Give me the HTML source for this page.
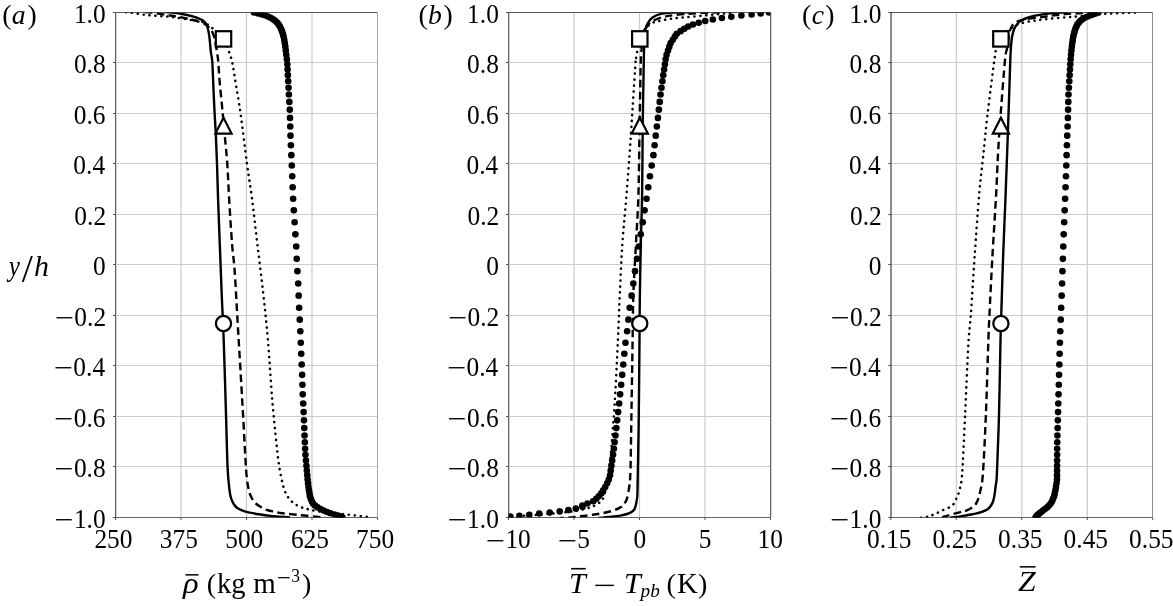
<!DOCTYPE html>
<html><head><meta charset="utf-8"><style>
html,body{margin:0;padding:0;background:#fff;}
body{width:1173px;height:606px;overflow:hidden;}
svg{display:block;}
text{font-family:"Liberation Serif",serif;fill:#000;}
</style></head><body>
<svg width="1173" height="606" viewBox="0 0 1173 606">
<defs>
<clipPath id="clipa"><rect x="115.5" y="12.5" width="262.0" height="505.0"/></clipPath>
<clipPath id="clipb"><rect x="508.5" y="12.5" width="262.0" height="505.0"/></clipPath>
<clipPath id="clipc"><rect x="890.8" y="12.5" width="262.0" height="505.0"/></clipPath>
</defs>
<path d="M181.00,12.5V517.5M246.50,12.5V517.5M312.00,12.5V517.5M115.5,62.50H377.5M115.5,113.50H377.5M115.5,163.50H377.5M115.5,214.50H377.5M115.5,264.50H377.5M115.5,315.50H377.5M115.5,365.50H377.5M115.5,416.50H377.5M115.5,466.50H377.5" stroke="#cbcbcb" stroke-width="1.2" fill="none"/>
<path d="M115.5,12.5H377.5" stroke="#5a5a5a" stroke-width="1" fill="none"/>
<path d="M115.5,517.5H377.5" stroke="#656565" stroke-width="1" fill="none"/>
<path d="M115.5,12.0V518.0" stroke="#5e5e5e" stroke-width="1" fill="none"/>
<path d="M377.5,12.5V517.5" stroke="#aaaaaa" stroke-width="1" fill="none"/>
<path d="M116.5,13.0V517.0" stroke="#d4d4d4" stroke-width="1" fill="none"/>
<path d="M113.00,12.50H115.5M113.00,62.50H115.5M113.00,113.50H115.5M113.00,163.50H115.5M113.00,214.50H115.5M113.00,264.50H115.5M113.00,315.50H115.5M113.00,365.50H115.5M113.00,416.50H115.5M113.00,466.50H115.5M113.00,517.50H115.5M115.50,517.5V520.0M181.00,517.5V520.0M246.50,517.5V520.0M312.00,517.5V520.0M377.50,517.5V520.0" stroke="#505050" stroke-width="1" fill="none"/>
<g clip-path="url(#clipa)" fill="none" stroke="#000">
<path d="M165.00,12.00C165.90,12.07 167.57,12.07 170.40,12.40C173.23,12.73 178.30,13.35 182.00,14.00C185.70,14.65 189.17,15.27 192.60,16.30C196.03,17.33 200.20,18.63 202.60,20.20C205.00,21.77 205.90,23.12 207.00,25.70C208.10,28.28 208.55,31.27 209.20,35.70C209.85,40.13 210.38,47.92 210.90,52.30C211.42,56.68 211.87,55.72 212.30,62.00C212.73,68.28 213.12,81.48 213.50,90.00C213.88,98.52 214.22,105.78 214.60,113.10C214.98,120.42 215.40,125.43 215.80,133.90C216.20,142.37 216.62,152.88 217.00,163.90C217.38,174.92 217.63,186.57 218.10,200.00C218.57,213.43 219.20,228.83 219.80,244.50C220.40,260.17 221.05,278.08 221.70,294.00C222.35,309.92 222.98,319.97 223.70,340.00C224.42,360.03 225.35,392.93 226.00,414.20C226.65,435.47 227.02,454.97 227.60,467.60C228.18,480.23 228.93,484.93 229.50,490.00C230.07,495.07 230.25,495.58 231.00,498.00C231.75,500.42 232.83,502.75 234.00,504.50C235.17,506.25 236.08,507.32 238.00,508.50C239.92,509.68 241.98,510.63 245.50,511.60C249.02,512.57 254.57,513.55 259.10,514.30C263.63,515.05 268.83,515.67 272.70,516.10C276.57,516.53 279.42,516.67 282.30,516.90C285.18,517.13 288.72,517.40 290.00,517.50" stroke-width="2.4"/>
<path d="M145.00,12.00C146.10,12.08 148.10,12.03 151.60,12.50C155.10,12.97 161.02,13.98 166.00,14.80C170.98,15.62 175.60,16.13 181.50,17.40C187.40,18.67 196.98,20.88 201.40,22.40C205.82,23.92 206.33,25.20 208.00,26.50C209.67,27.80 210.28,28.12 211.40,30.20C212.52,32.28 213.77,35.32 214.70,39.00C215.63,42.68 216.40,48.47 217.00,52.30C217.60,56.13 217.88,57.38 218.30,62.00C218.72,66.62 218.77,71.48 219.50,80.00C220.23,88.52 221.82,103.73 222.70,113.10C223.58,122.47 224.03,127.73 224.80,136.20C225.57,144.67 226.57,153.27 227.30,163.90C228.03,174.53 228.40,186.57 229.20,200.00C230.00,213.43 231.20,232.83 232.10,244.50C233.00,256.17 233.70,257.42 234.60,270.00C235.50,282.58 236.57,304.05 237.50,320.00C238.43,335.95 239.28,350.03 240.20,365.70C241.12,381.37 242.05,397.17 243.00,414.00C243.95,430.83 245.27,456.20 245.90,466.70C246.53,477.20 246.48,473.95 246.80,477.00C247.12,480.05 247.33,482.30 247.80,485.00C248.27,487.70 248.90,490.95 249.60,493.20C250.30,495.45 251.10,496.92 252.00,498.50C252.90,500.08 253.67,501.37 255.00,502.70C256.33,504.03 258.18,505.35 260.00,506.50C261.82,507.65 263.73,508.77 265.90,509.60C268.07,510.43 270.27,510.90 273.00,511.50C275.73,512.10 277.80,512.60 282.30,513.20C286.80,513.80 294.32,514.52 300.00,515.10C305.68,515.68 312.23,516.30 316.40,516.70C320.57,517.10 323.57,517.37 325.00,517.50" stroke-width="2.4" stroke-dasharray="7.6 4.3"/>
<path d="M126.00,12.20C126.57,12.25 125.70,12.00 129.40,12.50C133.10,13.00 141.37,14.47 148.20,15.20C155.03,15.93 163.00,16.07 170.40,16.90C177.80,17.73 187.05,19.28 192.60,20.20C198.15,21.12 200.57,21.20 203.70,22.40C206.83,23.60 209.02,25.47 211.40,27.40C213.78,29.33 215.90,31.73 218.00,34.00C220.10,36.27 222.23,38.22 224.00,41.00C225.77,43.78 227.22,47.03 228.60,50.70C229.98,54.37 231.07,57.28 232.30,63.00C233.53,68.72 234.63,76.65 236.00,85.00C237.37,93.35 238.67,99.95 240.50,113.10C242.33,126.25 245.08,149.65 247.00,163.90C248.92,178.15 250.27,185.17 252.00,198.60C253.73,212.03 255.52,228.60 257.40,244.50C259.28,260.40 261.55,278.08 263.30,294.00C265.05,309.92 266.42,322.45 267.90,340.00C269.38,357.55 270.77,381.98 272.20,399.30C273.63,416.62 275.28,432.45 276.50,443.90C277.72,455.35 278.30,460.70 279.50,468.00C280.70,475.30 282.10,482.60 283.70,487.70C285.30,492.80 286.83,495.63 289.10,498.60C291.37,501.57 293.88,503.67 297.30,505.50C300.72,507.33 304.37,508.35 309.60,509.60C314.83,510.85 322.80,512.22 328.70,513.00C334.60,513.78 339.32,513.73 345.00,514.30C350.68,514.87 358.30,515.87 362.80,516.40C367.30,516.93 370.47,517.32 372.00,517.50" stroke-width="2.5" stroke-dasharray="0.2 5.72" stroke-linecap="round"/>
<g fill="#000" stroke="none"><circle cx="342.50" cy="517.50" r="3.3"/><circle cx="340.50" cy="516.59" r="3.3"/><circle cx="338.00" cy="515.59" r="3.3"/><circle cx="334.50" cy="514.50" r="3.3"/><circle cx="330.52" cy="513.30" r="3.3"/><circle cx="327.00" cy="512.00" r="3.3"/><circle cx="323.71" cy="510.57" r="3.3"/><circle cx="320.51" cy="509.01" r="3.3"/><circle cx="317.51" cy="507.31" r="3.3"/><circle cx="315.00" cy="505.46" r="3.3"/><circle cx="313.00" cy="503.43" r="3.3"/><circle cx="311.80" cy="501.23" r="3.3"/><circle cx="310.80" cy="498.83" r="3.3"/><circle cx="310.00" cy="496.22" r="3.3"/><circle cx="309.52" cy="493.38" r="3.3"/><circle cx="308.99" cy="490.31" r="3.3"/><circle cx="308.48" cy="486.97" r="3.3"/><circle cx="308.05" cy="483.35" r="3.3"/><circle cx="307.59" cy="479.44" r="3.3"/><circle cx="307.23" cy="475.22" r="3.3"/><circle cx="306.86" cy="470.66" r="3.3"/><circle cx="306.44" cy="465.76" r="3.3"/><circle cx="305.97" cy="460.49" r="3.3"/><circle cx="305.46" cy="454.84" r="3.3"/><circle cx="305.12" cy="448.78" r="3.3"/><circle cx="304.85" cy="442.32" r="3.3"/><circle cx="304.56" cy="435.43" r="3.3"/><circle cx="304.27" cy="428.10" r="3.3"/><circle cx="303.96" cy="420.33" r="3.3"/><circle cx="303.64" cy="412.12" r="3.3"/><circle cx="303.21" cy="403.46" r="3.3"/><circle cx="302.75" cy="394.36" r="3.3"/><circle cx="302.44" cy="384.82" r="3.3"/><circle cx="302.13" cy="374.87" r="3.3"/><circle cx="301.69" cy="364.52" r="3.3"/><circle cx="301.23" cy="353.79" r="3.3"/><circle cx="300.78" cy="342.71" r="3.3"/><circle cx="300.32" cy="331.32" r="3.3"/><circle cx="299.73" cy="319.65" r="3.3"/><circle cx="299.13" cy="307.75" r="3.3"/><circle cx="298.67" cy="295.67" r="3.3"/><circle cx="298.20" cy="283.46" r="3.3"/><circle cx="297.42" cy="271.16" r="3.3"/><circle cx="296.75" cy="258.84" r="3.3"/><circle cx="296.21" cy="246.54" r="3.3"/><circle cx="295.41" cy="234.33" r="3.3"/><circle cx="294.62" cy="222.25" r="3.3"/><circle cx="293.85" cy="210.35" r="3.3"/><circle cx="293.11" cy="198.68" r="3.3"/><circle cx="292.65" cy="187.29" r="3.3"/><circle cx="292.22" cy="176.21" r="3.3"/><circle cx="291.79" cy="165.48" r="3.3"/><circle cx="291.34" cy="155.13" r="3.3"/><circle cx="290.91" cy="145.18" r="3.3"/><circle cx="290.49" cy="135.64" r="3.3"/><circle cx="290.25" cy="126.54" r="3.3"/><circle cx="290.02" cy="117.88" r="3.3"/><circle cx="289.80" cy="109.67" r="3.3"/><circle cx="289.34" cy="101.90" r="3.3"/><circle cx="288.90" cy="94.57" r="3.3"/><circle cx="288.53" cy="87.68" r="3.3"/><circle cx="288.20" cy="81.22" r="3.3"/><circle cx="287.89" cy="75.16" r="3.3"/><circle cx="287.60" cy="69.51" r="3.3"/><circle cx="287.33" cy="64.24" r="3.3"/><circle cx="286.89" cy="59.34" r="3.3"/><circle cx="286.27" cy="54.78" r="3.3"/><circle cx="285.79" cy="50.56" r="3.3"/><circle cx="285.33" cy="46.65" r="3.3"/><circle cx="284.80" cy="43.03" r="3.3"/><circle cx="284.24" cy="39.69" r="3.3"/><circle cx="283.58" cy="36.62" r="3.3"/><circle cx="282.86" cy="33.78" r="3.3"/><circle cx="281.99" cy="31.17" r="3.3"/><circle cx="280.99" cy="28.77" r="3.3"/><circle cx="279.88" cy="26.57" r="3.3"/><circle cx="278.72" cy="24.54" r="3.3"/><circle cx="277.29" cy="22.69" r="3.3"/><circle cx="275.48" cy="20.99" r="3.3"/><circle cx="273.50" cy="19.43" r="3.3"/><circle cx="271.00" cy="18.00" r="3.3"/><circle cx="268.49" cy="16.70" r="3.3"/><circle cx="265.50" cy="15.50" r="3.3"/><circle cx="262.00" cy="14.41" r="3.3"/><circle cx="258.01" cy="13.41" r="3.3"/><circle cx="254.00" cy="12.50" r="3.3"/></g>
</g>
<rect x="215.80" y="31.20" width="15.4" height="15.4" fill="#fff" stroke="#000" stroke-width="2.2"/>
<path d="M223.50,117.70L231.60,133.60L215.40,133.60Z" fill="#fff" stroke="#000" stroke-width="2.2" stroke-miterlimit="3"/>
<circle cx="223.50" cy="323.50" r="7.6" fill="#fff" stroke="#000" stroke-width="2.2"/>
<path d="M574.00,12.5V517.5M639.50,12.5V517.5M705.00,12.5V517.5M508.5,62.50H770.5M508.5,113.50H770.5M508.5,163.50H770.5M508.5,214.50H770.5M508.5,264.50H770.5M508.5,315.50H770.5M508.5,365.50H770.5M508.5,416.50H770.5M508.5,466.50H770.5" stroke="#cbcbcb" stroke-width="1.2" fill="none"/>
<path d="M508.5,12.5H770.5" stroke="#5a5a5a" stroke-width="1" fill="none"/>
<path d="M508.5,517.5H770.5" stroke="#656565" stroke-width="1" fill="none"/>
<path d="M508.5,12.0V518.0" stroke="#5e5e5e" stroke-width="1" fill="none"/>
<path d="M770.5,12.5V517.5" stroke="#666666" stroke-width="1" fill="none"/>
<path d="M509.5,13.0V517.0" stroke="#d4d4d4" stroke-width="1" fill="none"/>
<path d="M771.5,13.0V517.0" stroke="#d4d4d4" stroke-width="1" fill="none"/>
<path d="M506.00,12.50H508.5M506.00,62.50H508.5M506.00,113.50H508.5M506.00,163.50H508.5M506.00,214.50H508.5M506.00,264.50H508.5M506.00,315.50H508.5M506.00,365.50H508.5M506.00,416.50H508.5M506.00,466.50H508.5M506.00,517.50H508.5M508.50,517.5V520.0M574.00,517.5V520.0M639.50,517.5V520.0M705.00,517.5V520.0M770.50,517.5V520.0" stroke="#505050" stroke-width="1" fill="none"/>
<g clip-path="url(#clipb)" fill="none" stroke="#000">
<path d="M690.00,12.20C686.92,12.25 676.37,12.22 671.50,12.50C666.63,12.78 664.02,13.03 660.80,13.90C657.58,14.77 654.35,16.18 652.20,17.70C650.05,19.22 649.07,20.87 647.90,23.00C646.73,25.13 645.83,26.38 645.20,30.50C644.57,34.62 644.37,40.73 644.10,47.70C643.83,54.67 643.82,60.62 643.60,72.30C643.38,83.98 643.05,97.35 642.80,117.80C642.55,138.25 642.43,173.88 642.10,195.00C641.77,216.12 641.18,227.00 640.80,244.50C640.42,262.00 640.02,284.08 639.80,300.00C639.58,315.92 639.70,318.50 639.50,340.00C639.30,361.50 638.93,403.88 638.60,429.00C638.27,454.12 637.80,478.87 637.50,490.70C637.20,502.53 637.10,497.53 636.80,500.00C636.50,502.47 636.12,503.92 635.70,505.50C635.28,507.08 635.00,508.42 634.30,509.50C633.60,510.58 632.72,511.25 631.50,512.00C630.28,512.75 628.85,513.40 627.00,514.00C625.15,514.60 622.90,515.13 620.40,515.60C617.90,516.07 614.73,516.48 612.00,516.80C609.27,517.12 606.33,517.30 604.00,517.50C601.67,517.70 599.00,517.92 598.00,518.00" stroke-width="2.4"/>
<path d="M720.00,12.30C715.83,12.48 702.37,12.95 695.00,13.40C687.63,13.85 681.15,14.38 675.80,15.00C670.45,15.62 667.02,15.93 662.90,17.10C658.78,18.27 653.92,20.18 651.10,22.00C648.28,23.82 647.35,25.50 646.00,28.00C644.65,30.50 643.75,33.33 643.00,37.00C642.25,40.67 641.87,46.17 641.50,50.00C641.13,53.83 641.10,48.70 640.80,60.00C640.50,71.30 640.10,95.30 639.70,117.80C639.30,140.30 639.03,173.88 638.40,195.00C637.77,216.12 636.73,228.00 635.90,244.50C635.07,261.00 633.95,278.08 633.40,294.00C632.85,309.92 632.97,317.50 632.60,340.00C632.23,362.50 631.55,407.33 631.20,429.00C630.85,450.67 630.78,460.67 630.50,470.00C630.22,479.33 629.92,481.03 629.50,485.00C629.08,488.97 628.50,491.30 628.00,493.80C627.50,496.30 627.25,498.22 626.50,500.00C625.75,501.78 624.52,503.27 623.50,504.50C622.48,505.73 622.43,506.28 620.40,507.40C618.37,508.52 615.35,510.05 611.30,511.20C607.25,512.35 601.17,513.47 596.10,514.30C591.03,515.13 585.25,515.67 580.90,516.20C576.55,516.73 573.48,517.20 570.00,517.50C566.52,517.80 561.67,517.92 560.00,518.00" stroke-width="2.4" stroke-dasharray="7.6 4.3"/>
<path d="M730.00,13.00C727.50,13.25 720.10,14.00 715.00,14.50C709.90,15.00 704.52,15.52 699.40,16.00C694.28,16.48 688.95,16.95 684.30,17.40C679.65,17.85 675.60,18.12 671.50,18.70C667.40,19.28 662.92,20.18 659.70,20.90C656.48,21.62 654.65,21.65 652.20,23.00C649.75,24.35 647.03,26.50 645.00,29.00C642.97,31.50 641.23,34.67 640.00,38.00C638.77,41.33 638.25,45.68 637.60,49.00C636.95,52.32 636.43,55.87 636.10,57.90C635.77,59.93 636.17,53.15 635.60,61.20C635.03,69.25 633.68,90.98 632.70,106.20C631.72,121.42 630.78,137.08 629.70,152.50C628.62,167.92 627.43,183.37 626.20,198.70C624.97,214.03 623.37,228.62 622.30,244.50C621.23,260.38 620.53,278.08 619.80,294.00C619.07,309.92 618.72,322.45 617.90,340.00C617.08,357.55 616.15,379.52 614.90,399.30C613.65,419.08 611.80,444.42 610.40,458.70C609.00,472.98 607.60,478.65 606.50,485.00C605.40,491.35 604.80,494.02 603.80,496.80C602.80,499.58 601.97,500.27 600.50,501.70C599.03,503.13 596.80,504.40 595.00,505.40C593.20,506.40 592.20,506.93 589.70,507.70C587.20,508.47 583.28,509.32 580.00,510.00C576.72,510.68 574.20,511.23 570.00,511.80C565.80,512.37 559.80,512.93 554.80,513.40C549.80,513.87 544.97,514.23 540.00,514.60C535.03,514.97 530.33,515.23 525.00,515.60C519.67,515.97 512.17,516.52 508.00,516.80C503.83,517.08 501.33,517.22 500.00,517.30" stroke-width="2.5" stroke-dasharray="0.2 5.72" stroke-linecap="round"/>
<g fill="#000" stroke="none"><circle cx="582.41" cy="505.46" r="3.3"/><circle cx="587.49" cy="503.43" r="3.3"/><circle cx="593.22" cy="501.23" r="3.3"/><circle cx="596.31" cy="498.83" r="3.3"/><circle cx="598.71" cy="496.22" r="3.3"/><circle cx="601.27" cy="493.38" r="3.3"/><circle cx="603.17" cy="490.31" r="3.3"/><circle cx="605.23" cy="486.97" r="3.3"/><circle cx="607.15" cy="483.35" r="3.3"/><circle cx="608.78" cy="479.44" r="3.3"/><circle cx="610.05" cy="475.22" r="3.3"/><circle cx="610.70" cy="470.66" r="3.3"/><circle cx="611.39" cy="465.76" r="3.3"/><circle cx="612.20" cy="460.49" r="3.3"/><circle cx="613.08" cy="454.84" r="3.3"/><circle cx="613.88" cy="448.78" r="3.3"/><circle cx="614.64" cy="442.32" r="3.3"/><circle cx="615.46" cy="435.43" r="3.3"/><circle cx="616.33" cy="428.10" r="3.3"/><circle cx="617.22" cy="420.33" r="3.3"/><circle cx="618.17" cy="412.12" r="3.3"/><circle cx="619.17" cy="403.46" r="3.3"/><circle cx="620.14" cy="394.36" r="3.3"/><circle cx="621.16" cy="384.82" r="3.3"/><circle cx="622.22" cy="374.87" r="3.3"/><circle cx="623.26" cy="364.52" r="3.3"/><circle cx="624.34" cy="353.79" r="3.3"/><circle cx="625.46" cy="342.71" r="3.3"/><circle cx="627.10" cy="331.32" r="3.3"/><circle cx="628.41" cy="319.65" r="3.3"/><circle cx="629.68" cy="307.75" r="3.3"/><circle cx="631.62" cy="295.67" r="3.3"/><circle cx="633.32" cy="283.46" r="3.3"/><circle cx="635.01" cy="271.16" r="3.3"/><circle cx="637.06" cy="258.84" r="3.3"/><circle cx="638.85" cy="246.54" r="3.3"/><circle cx="640.76" cy="234.33" r="3.3"/><circle cx="642.71" cy="222.25" r="3.3"/><circle cx="644.59" cy="210.35" r="3.3"/><circle cx="646.54" cy="198.68" r="3.3"/><circle cx="648.25" cy="187.29" r="3.3"/><circle cx="649.91" cy="176.21" r="3.3"/><circle cx="651.70" cy="165.48" r="3.3"/><circle cx="653.44" cy="155.13" r="3.3"/><circle cx="654.62" cy="145.18" r="3.3"/><circle cx="655.74" cy="135.64" r="3.3"/><circle cx="656.85" cy="126.54" r="3.3"/><circle cx="657.91" cy="117.88" r="3.3"/><circle cx="658.84" cy="109.67" r="3.3"/><circle cx="659.70" cy="101.90" r="3.3"/><circle cx="660.52" cy="94.57" r="3.3"/><circle cx="661.50" cy="87.68" r="3.3"/><circle cx="662.41" cy="81.22" r="3.3"/><circle cx="663.28" cy="75.16" r="3.3"/><circle cx="664.10" cy="69.51" r="3.3"/><circle cx="664.90" cy="64.24" r="3.3"/><circle cx="665.64" cy="59.34" r="3.3"/><circle cx="666.61" cy="54.78" r="3.3"/><circle cx="668.01" cy="50.56" r="3.3"/><circle cx="669.32" cy="46.65" r="3.3"/><circle cx="670.64" cy="43.03" r="3.3"/><circle cx="672.84" cy="39.69" r="3.3"/><circle cx="674.88" cy="36.62" r="3.3"/><circle cx="676.75" cy="33.78" r="3.3"/><circle cx="680.63" cy="31.17" r="3.3"/><circle cx="684.27" cy="28.77" r="3.3"/><circle cx="688.20" cy="26.57" r="3.3"/><circle cx="692.89" cy="24.54" r="3.3"/><circle cx="698.71" cy="22.69" r="3.3"/><circle cx="705.22" cy="20.99" r="3.3"/><circle cx="712.82" cy="19.43" r="3.3"/><circle cx="721.90" cy="18.00" r="3.3"/><circle cx="731.34" cy="16.70" r="3.3"/><circle cx="741.39" cy="15.50" r="3.3"/><circle cx="751.61" cy="14.41" r="3.3"/><circle cx="760.69" cy="13.41" r="3.3"/><circle cx="769.00" cy="12.50" r="3.3"/><circle cx="500.50" cy="517.30" r="3.3"/><circle cx="510.30" cy="516.50" r="3.3"/><circle cx="519.40" cy="515.80" r="3.3"/><circle cx="529.30" cy="514.70" r="3.3"/><circle cx="539.20" cy="513.50" r="3.3"/><circle cx="549.70" cy="512.60" r="3.3"/><circle cx="559.70" cy="511.40" r="3.3"/><circle cx="568.40" cy="510.10" r="3.3"/><circle cx="575.80" cy="508.60" r="3.3"/><circle cx="582.50" cy="507.00" r="3.3"/></g>
</g>
<rect x="632.10" y="31.20" width="15.4" height="15.4" fill="#fff" stroke="#000" stroke-width="2.2"/>
<path d="M639.80,117.70L647.90,133.60L631.70,133.60Z" fill="#fff" stroke="#000" stroke-width="2.2" stroke-miterlimit="3"/>
<circle cx="639.80" cy="323.50" r="7.6" fill="#fff" stroke="#000" stroke-width="2.2"/>
<path d="M956.30,12.5V517.5M1021.80,12.5V517.5M1087.30,12.5V517.5M890.8,62.50H1152.8M890.8,113.50H1152.8M890.8,163.50H1152.8M890.8,214.50H1152.8M890.8,264.50H1152.8M890.8,315.50H1152.8M890.8,365.50H1152.8M890.8,416.50H1152.8M890.8,466.50H1152.8" stroke="#cbcbcb" stroke-width="1.2" fill="none"/>
<path d="M890.8,12.5H1152.8" stroke="#5a5a5a" stroke-width="1" fill="none"/>
<path d="M890.8,517.5H1152.8" stroke="#656565" stroke-width="1" fill="none"/>
<path d="M891.0,12.0V518.0" stroke="#151515" stroke-width="1" fill="none"/>
<path d="M1152.5,12.5V517.5" stroke="#8c8c8c" stroke-width="1" fill="none"/>
<path d="M888.30,12.50H890.8M888.30,62.50H890.8M888.30,113.50H890.8M888.30,163.50H890.8M888.30,214.50H890.8M888.30,264.50H890.8M888.30,315.50H890.8M888.30,365.50H890.8M888.30,416.50H890.8M888.30,466.50H890.8M888.30,517.50H890.8M890.80,517.5V520.0M956.30,517.5V520.0M1021.80,517.5V520.0M1087.30,517.5V520.0M1152.80,517.5V520.0" stroke="#505050" stroke-width="1" fill="none"/>
<g clip-path="url(#clipc)" fill="none" stroke="#000">
<path d="M1068.00,12.20C1065.88,12.32 1059.55,12.53 1055.30,12.90C1051.05,13.27 1046.75,13.72 1042.50,14.40C1038.25,15.08 1033.42,15.93 1029.80,17.00C1026.18,18.07 1023.02,19.47 1020.80,20.80C1018.58,22.13 1017.60,23.63 1016.50,25.00C1015.40,26.37 1014.92,27.17 1014.20,29.00C1013.48,30.83 1012.72,33.33 1012.20,36.00C1011.68,38.67 1011.38,41.83 1011.10,45.00C1010.82,48.17 1010.63,52.50 1010.50,55.00C1010.37,57.50 1010.72,47.62 1010.30,60.00C1009.88,72.38 1008.82,105.97 1008.00,129.30C1007.18,152.63 1006.22,178.75 1005.40,200.00C1004.58,221.25 1003.78,237.85 1003.10,256.80C1002.42,275.75 1001.75,299.00 1001.30,313.70C1000.85,328.40 1000.78,328.23 1000.40,345.00C1000.02,361.77 999.58,392.83 999.00,414.30C998.42,435.77 997.43,462.02 996.90,473.80C996.37,485.58 996.20,481.47 995.80,485.00C995.40,488.53 994.93,492.33 994.50,495.00C994.07,497.67 993.78,499.25 993.20,501.00C992.62,502.75 991.93,504.12 991.00,505.50C990.07,506.88 989.10,508.25 987.60,509.30C986.10,510.35 984.02,511.08 982.00,511.80C979.98,512.52 978.00,513.03 975.50,513.60C973.00,514.17 969.68,514.70 967.00,515.20C964.32,515.70 962.23,516.20 959.40,516.60C956.57,517.00 951.57,517.43 950.00,517.60" stroke-width="2.4"/>
<path d="M1095.00,12.50C1091.58,12.65 1080.90,12.98 1074.50,13.40C1068.10,13.82 1061.93,14.40 1056.60,15.00C1051.27,15.60 1047.40,16.35 1042.50,17.00C1037.60,17.65 1031.12,18.23 1027.20,18.90C1023.28,19.57 1021.13,20.27 1019.00,21.00C1016.87,21.73 1015.65,22.30 1014.40,23.30C1013.15,24.30 1012.25,25.72 1011.50,27.00C1010.75,28.28 1010.40,29.17 1009.90,31.00C1009.40,32.83 1008.95,35.18 1008.50,38.00C1008.05,40.82 1007.78,44.23 1007.20,47.90C1006.62,51.57 1006.13,48.37 1005.00,60.00C1003.87,71.63 1001.55,102.30 1000.40,117.70C999.25,133.10 998.82,139.52 998.10,152.40C997.38,165.28 997.05,177.60 996.10,195.00C995.15,212.40 993.50,237.02 992.40,256.80C991.30,276.58 990.20,299.00 989.50,313.70C988.80,328.40 988.80,328.23 988.20,345.00C987.60,361.77 986.78,392.83 985.90,414.30C985.02,435.77 983.80,461.18 982.90,473.80C982.00,486.42 981.38,485.55 980.50,490.00C979.62,494.45 978.70,497.82 977.60,500.50C976.50,503.18 975.88,504.37 973.90,506.10C971.92,507.83 967.73,509.95 965.70,510.90C963.67,511.85 963.92,511.27 961.70,511.80C959.48,512.33 955.22,513.32 952.40,514.10C949.58,514.88 947.20,515.85 944.80,516.50C942.40,517.15 939.13,517.75 938.00,518.00" stroke-width="2.4" stroke-dasharray="7.6 4.3"/>
<path d="M1135.00,12.60C1133.65,12.65 1130.23,12.78 1126.90,12.90C1123.57,13.02 1118.83,13.15 1115.00,13.30C1111.17,13.45 1107.57,13.52 1103.90,13.80C1100.23,14.08 1096.98,14.58 1093.00,15.00C1089.02,15.42 1084.37,15.93 1080.00,16.30C1075.63,16.67 1071.98,16.77 1066.80,17.20C1061.62,17.63 1054.43,18.30 1048.90,18.90C1043.37,19.50 1038.28,20.07 1033.60,20.80C1028.92,21.53 1024.23,22.27 1020.80,23.30C1017.37,24.33 1015.47,25.38 1013.00,27.00C1010.53,28.62 1008.17,30.67 1006.00,33.00C1003.83,35.33 1001.57,38.52 1000.00,41.00C998.43,43.48 997.53,44.73 996.60,47.90C995.67,51.07 995.88,49.13 994.40,60.00C992.92,70.87 989.58,96.93 987.70,113.10C985.82,129.27 984.53,143.35 983.10,157.00C981.67,170.65 980.52,178.37 979.10,195.00C977.68,211.63 975.97,237.02 974.60,256.80C973.23,276.58 971.95,299.00 970.90,313.70C969.85,328.40 969.27,328.23 968.30,345.00C967.33,361.77 966.13,392.83 965.10,414.30C964.07,435.77 963.03,461.18 962.10,473.80C961.17,486.42 960.35,486.15 959.50,490.00C958.65,493.85 958.18,494.35 957.00,496.90C955.82,499.45 954.95,503.00 952.40,505.30C949.85,507.60 944.93,509.12 941.70,510.70C938.47,512.28 935.30,513.83 933.00,514.80C930.70,515.77 930.07,515.97 927.90,516.50C925.73,517.03 921.32,517.75 920.00,518.00" stroke-width="2.5" stroke-dasharray="0.2 5.72" stroke-linecap="round"/>
<g fill="#000" stroke="none"><circle cx="1035.50" cy="517.50" r="3.3"/><circle cx="1036.22" cy="516.59" r="3.3"/><circle cx="1037.01" cy="515.59" r="3.3"/><circle cx="1038.20" cy="514.50" r="3.3"/><circle cx="1039.49" cy="513.30" r="3.3"/><circle cx="1041.13" cy="512.00" r="3.3"/><circle cx="1042.91" cy="510.57" r="3.3"/><circle cx="1044.95" cy="509.01" r="3.3"/><circle cx="1047.19" cy="507.31" r="3.3"/><circle cx="1049.04" cy="505.46" r="3.3"/><circle cx="1050.72" cy="503.43" r="3.3"/><circle cx="1052.05" cy="501.23" r="3.3"/><circle cx="1053.08" cy="498.83" r="3.3"/><circle cx="1054.11" cy="496.22" r="3.3"/><circle cx="1054.74" cy="493.38" r="3.3"/><circle cx="1055.43" cy="490.31" r="3.3"/><circle cx="1055.98" cy="486.97" r="3.3"/><circle cx="1056.56" cy="483.35" r="3.3"/><circle cx="1057.01" cy="479.44" r="3.3"/><circle cx="1057.03" cy="475.22" r="3.3"/><circle cx="1057.05" cy="470.66" r="3.3"/><circle cx="1057.08" cy="465.76" r="3.3"/><circle cx="1057.11" cy="460.49" r="3.3"/><circle cx="1057.14" cy="454.84" r="3.3"/><circle cx="1057.17" cy="448.78" r="3.3"/><circle cx="1057.25" cy="442.32" r="3.3"/><circle cx="1057.43" cy="435.43" r="3.3"/><circle cx="1057.63" cy="428.10" r="3.3"/><circle cx="1057.84" cy="420.33" r="3.3"/><circle cx="1058.06" cy="412.12" r="3.3"/><circle cx="1058.29" cy="403.46" r="3.3"/><circle cx="1058.54" cy="394.36" r="3.3"/><circle cx="1058.79" cy="384.82" r="3.3"/><circle cx="1059.05" cy="374.87" r="3.3"/><circle cx="1059.33" cy="364.52" r="3.3"/><circle cx="1059.61" cy="353.79" r="3.3"/><circle cx="1059.91" cy="342.71" r="3.3"/><circle cx="1060.26" cy="331.32" r="3.3"/><circle cx="1060.72" cy="319.65" r="3.3"/><circle cx="1061.19" cy="307.75" r="3.3"/><circle cx="1061.68" cy="295.67" r="3.3"/><circle cx="1062.08" cy="283.46" r="3.3"/><circle cx="1062.48" cy="271.16" r="3.3"/><circle cx="1062.88" cy="258.84" r="3.3"/><circle cx="1063.29" cy="246.54" r="3.3"/><circle cx="1063.71" cy="234.33" r="3.3"/><circle cx="1064.18" cy="222.25" r="3.3"/><circle cx="1064.65" cy="210.35" r="3.3"/><circle cx="1065.10" cy="198.68" r="3.3"/><circle cx="1065.54" cy="187.29" r="3.3"/><circle cx="1065.97" cy="176.21" r="3.3"/><circle cx="1066.30" cy="165.48" r="3.3"/><circle cx="1066.61" cy="155.13" r="3.3"/><circle cx="1066.91" cy="145.18" r="3.3"/><circle cx="1067.25" cy="135.64" r="3.3"/><circle cx="1067.58" cy="126.54" r="3.3"/><circle cx="1067.89" cy="117.88" r="3.3"/><circle cx="1068.11" cy="109.67" r="3.3"/><circle cx="1068.31" cy="101.90" r="3.3"/><circle cx="1068.50" cy="94.57" r="3.3"/><circle cx="1068.91" cy="87.68" r="3.3"/><circle cx="1069.29" cy="81.22" r="3.3"/><circle cx="1069.64" cy="75.16" r="3.3"/><circle cx="1069.98" cy="69.51" r="3.3"/><circle cx="1070.29" cy="64.24" r="3.3"/><circle cx="1070.66" cy="59.34" r="3.3"/><circle cx="1071.01" cy="54.78" r="3.3"/><circle cx="1071.40" cy="50.56" r="3.3"/><circle cx="1071.86" cy="46.65" r="3.3"/><circle cx="1072.28" cy="43.03" r="3.3"/><circle cx="1072.80" cy="39.69" r="3.3"/><circle cx="1073.32" cy="36.62" r="3.3"/><circle cx="1073.95" cy="33.78" r="3.3"/><circle cx="1074.69" cy="31.17" r="3.3"/><circle cx="1075.40" cy="28.77" r="3.3"/><circle cx="1076.38" cy="26.57" r="3.3"/><circle cx="1077.28" cy="24.54" r="3.3"/><circle cx="1078.75" cy="22.69" r="3.3"/><circle cx="1080.11" cy="20.99" r="3.3"/><circle cx="1082.11" cy="19.43" r="3.3"/><circle cx="1084.25" cy="18.00" r="3.3"/><circle cx="1087.01" cy="16.70" r="3.3"/><circle cx="1090.00" cy="15.50" r="3.3"/><circle cx="1092.91" cy="14.41" r="3.3"/><circle cx="1095.73" cy="13.41" r="3.3"/><circle cx="1098.40" cy="12.50" r="3.3"/></g>
</g>
<rect x="993.20" y="31.20" width="15.4" height="15.4" fill="#fff" stroke="#000" stroke-width="2.2"/>
<path d="M1000.90,117.70L1009.00,133.60L992.80,133.60Z" fill="#fff" stroke="#000" stroke-width="2.2" stroke-miterlimit="3"/>
<circle cx="1000.90" cy="323.50" r="7.6" fill="#fff" stroke="#000" stroke-width="2.2"/>
<text transform="translate(73.92,22.60) scale(1.0,1.09)" font-size="25.4" >1.0</text>
<text transform="translate(73.92,72.60) scale(1.0,1.09)" font-size="25.4" >0.8</text>
<text transform="translate(73.71,123.60) scale(1.0,1.09)" font-size="25.4" >0.6</text>
<text transform="translate(73.35,173.60) scale(1.0,1.09)" font-size="25.4" >0.4</text>
<text transform="translate(74.35,224.60) scale(1.0,1.09)" font-size="25.4" >0.2</text>
<text transform="translate(92.97,274.60) scale(1.0,1.09)" font-size="25.4" >0</text>
<text transform="translate(74.35,325.60) scale(1.0,1.09)" font-size="25.4" >0.2</text>
<text transform="translate(55.02,327.10) scale(1.34,1.09)" font-size="25.4" >−</text>
<text transform="translate(73.35,375.60) scale(1.0,1.09)" font-size="25.4" >0.4</text>
<text transform="translate(54.01,377.10) scale(1.34,1.09)" font-size="25.4" >−</text>
<text transform="translate(73.71,426.60) scale(1.0,1.09)" font-size="25.4" >0.6</text>
<text transform="translate(54.37,428.10) scale(1.34,1.09)" font-size="25.4" >−</text>
<text transform="translate(73.92,476.60) scale(1.0,1.09)" font-size="25.4" >0.8</text>
<text transform="translate(54.59,478.10) scale(1.34,1.09)" font-size="25.4" >−</text>
<text transform="translate(73.92,527.60) scale(1.0,1.09)" font-size="25.4" >1.0</text>
<text transform="translate(54.59,529.10) scale(1.34,1.09)" font-size="25.4" >−</text>
<text transform="translate(94.38,548.10) scale(1.0,1.09)" font-size="25.4" >250</text>
<text transform="translate(159.84,548.10) scale(1.0,1.09)" font-size="25.4" >375</text>
<text transform="translate(225.20,548.10) scale(1.0,1.09)" font-size="25.4" >500</text>
<text transform="translate(290.90,548.10) scale(1.0,1.09)" font-size="25.4" >625</text>
<text transform="translate(356.10,548.10) scale(1.0,1.09)" font-size="25.4" >750</text>
<text transform="translate(467.12,22.60) scale(1.0,1.09)" font-size="25.4" >1.0</text>
<text transform="translate(467.12,72.60) scale(1.0,1.09)" font-size="25.4" >0.8</text>
<text transform="translate(466.91,123.60) scale(1.0,1.09)" font-size="25.4" >0.6</text>
<text transform="translate(466.55,173.60) scale(1.0,1.09)" font-size="25.4" >0.4</text>
<text transform="translate(467.55,224.60) scale(1.0,1.09)" font-size="25.4" >0.2</text>
<text transform="translate(486.17,274.60) scale(1.0,1.09)" font-size="25.4" >0</text>
<text transform="translate(467.55,325.60) scale(1.0,1.09)" font-size="25.4" >0.2</text>
<text transform="translate(448.22,327.10) scale(1.34,1.09)" font-size="25.4" >−</text>
<text transform="translate(466.55,375.60) scale(1.0,1.09)" font-size="25.4" >0.4</text>
<text transform="translate(447.21,377.10) scale(1.34,1.09)" font-size="25.4" >−</text>
<text transform="translate(466.91,426.60) scale(1.0,1.09)" font-size="25.4" >0.6</text>
<text transform="translate(447.57,428.10) scale(1.34,1.09)" font-size="25.4" >−</text>
<text transform="translate(467.12,476.60) scale(1.0,1.09)" font-size="25.4" >0.8</text>
<text transform="translate(447.79,478.10) scale(1.34,1.09)" font-size="25.4" >−</text>
<text transform="translate(467.12,527.60) scale(1.0,1.09)" font-size="25.4" >1.0</text>
<text transform="translate(447.79,529.10) scale(1.34,1.09)" font-size="25.4" >−</text>
<text transform="translate(505.40,548.10) scale(1.0,1.09)" font-size="25.4" >10</text>
<text transform="translate(486.07,549.60) scale(1.34,1.09)" font-size="25.4" >−</text>
<text transform="translate(577.26,548.10) scale(1.0,1.09)" font-size="25.4" >5</text>
<text transform="translate(557.93,549.60) scale(1.34,1.09)" font-size="25.4" >−</text>
<text transform="translate(633.45,548.10) scale(1.0,1.09)" font-size="25.4" >0</text>
<text transform="translate(698.71,548.10) scale(1.0,1.09)" font-size="25.4" >5</text>
<text transform="translate(757.47,548.10) scale(1.0,1.09)" font-size="25.4" >10</text>
<text transform="translate(849.62,22.60) scale(1.0,1.09)" font-size="25.4" >1.0</text>
<text transform="translate(849.62,72.60) scale(1.0,1.09)" font-size="25.4" >0.8</text>
<text transform="translate(849.41,123.60) scale(1.0,1.09)" font-size="25.4" >0.6</text>
<text transform="translate(849.05,173.60) scale(1.0,1.09)" font-size="25.4" >0.4</text>
<text transform="translate(850.05,224.60) scale(1.0,1.09)" font-size="25.4" >0.2</text>
<text transform="translate(868.67,274.60) scale(1.0,1.09)" font-size="25.4" >0</text>
<text transform="translate(850.05,325.60) scale(1.0,1.09)" font-size="25.4" >0.2</text>
<text transform="translate(830.72,327.10) scale(1.34,1.09)" font-size="25.4" >−</text>
<text transform="translate(849.05,375.60) scale(1.0,1.09)" font-size="25.4" >0.4</text>
<text transform="translate(829.71,377.10) scale(1.34,1.09)" font-size="25.4" >−</text>
<text transform="translate(849.41,426.60) scale(1.0,1.09)" font-size="25.4" >0.6</text>
<text transform="translate(830.07,428.10) scale(1.34,1.09)" font-size="25.4" >−</text>
<text transform="translate(849.62,476.60) scale(1.0,1.09)" font-size="25.4" >0.8</text>
<text transform="translate(830.29,478.10) scale(1.34,1.09)" font-size="25.4" >−</text>
<text transform="translate(849.62,527.60) scale(1.0,1.09)" font-size="25.4" >1.0</text>
<text transform="translate(830.29,529.10) scale(1.34,1.09)" font-size="25.4" >−</text>
<text transform="translate(867.09,548.10) scale(1.0,1.09)" font-size="25.4" >0.15</text>
<text transform="translate(932.59,548.10) scale(1.0,1.09)" font-size="25.4" >0.25</text>
<text transform="translate(998.09,548.10) scale(1.0,1.09)" font-size="25.4" >0.35</text>
<text transform="translate(1063.59,548.10) scale(1.0,1.09)" font-size="25.4" >0.45</text>
<text transform="translate(1129.09,548.10) scale(1.0,1.09)" font-size="25.4" >0.55</text>
<text x="2.18" y="23.60" font-size="27.7" >(</text>
<text x="11.77" y="23.60" font-size="27.7" font-style="italic" >a</text>
<text x="27.51" y="23.60" font-size="27.7" >)</text>
<text x="418.38" y="23.60" font-size="27.7" >(</text>
<text x="428.07" y="23.60" font-size="27.7" font-style="italic" >b</text>
<text x="443.41" y="23.60" font-size="27.7" >)</text>
<text x="801.88" y="23.60" font-size="27.7" >(</text>
<text x="811.85" y="23.60" font-size="27.7" font-style="italic" >c</text>
<text x="825.21" y="23.60" font-size="27.7" >)</text>
<text transform="translate(8.69,275.80) scale(0.88,1.0)" font-size="28.5" font-style="italic" >y</text>
<text x="21.70" y="282.20" font-size="40" >/</text>
<text transform="translate(34.02,275.80) scale(1.05,1.0)" font-size="28.5" font-style="italic" >h</text>
<text transform="translate(183.12,593.00) scale(1.12,1.0)" font-size="29" font-style="italic" >ρ</text>
<rect x="185.4" y="574.1" width="13.1" height="1.5" fill="#000"/>
<text x="206.67" y="593.00" font-size="28" >(</text>
<text x="216.96" y="593.00" font-size="28.5" >kg</text>
<text x="253.20" y="593.00" font-size="29" >m</text>
<text x="276.75" y="585.60" font-size="25" >−</text>
<text transform="translate(291.36,582.10) scale(0.92,1.0)" font-size="19" >3</text>
<text x="302.00" y="593.00" font-size="28" >)</text>
<rect x="571.1" y="567.9" width="14.7" height="1.6" fill="#000"/>
<text transform="translate(569.10,592.70) scale(1.04,1.0)" font-size="29" font-style="italic" >T</text>
<text transform="translate(593.30,595.30) scale(1.38,1.0)" font-size="29" >−</text>
<text transform="translate(624.00,592.70) scale(1.04,1.0)" font-size="29" font-style="italic" >T</text>
<text transform="translate(640.60,596.90) scale(1.07,1.0)" font-size="18" font-style="italic" >pb</text>
<text x="666.40" y="593.00" font-size="28" >(</text>
<text x="676.96" y="593.00" font-size="29" >K</text>
<text x="698.00" y="593.00" font-size="28" >)</text>
<rect x="1019.8" y="566.1" width="15.8" height="1.5" fill="#000"/>
<text transform="translate(1018.10,590.90) scale(1.06,1.0)" font-size="30" font-style="italic" >Z</text>
</svg>
</body></html>
